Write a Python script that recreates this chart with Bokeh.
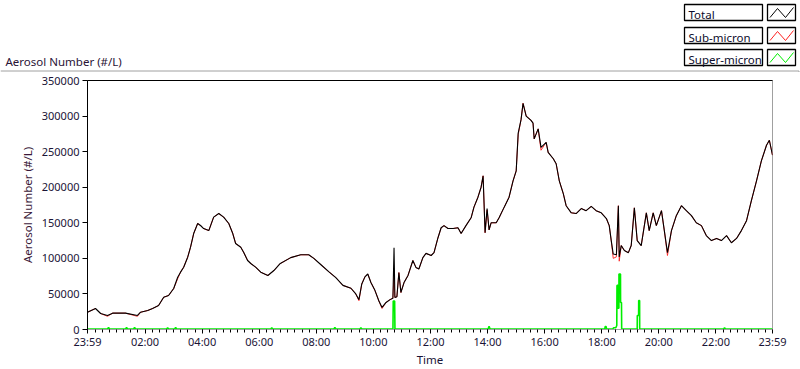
from bokeh.plotting import figure
from bokeh.layouts import column
from bokeh.models import Range1d, FixedTicker, LinearAxis, ColumnDataSource
from bokeh.core.properties import value
from bokeh.embed import file_html
from bokeh.resources import INLINE

# ---------------- data (hours after 23:59) ----------------
hours = [0.00, 0.28, 0.46, 0.70, 0.88, 1.33, 1.75, 1.86, 2.11, 2.28,
         2.49, 2.67, 2.84, 3.02, 3.16, 3.26, 3.37, 3.51, 3.61, 3.72,
         3.86, 3.96, 4.07, 4.25, 4.42, 4.60, 4.77, 4.95, 5.09, 5.19,
         5.37, 5.47, 5.61, 5.72, 5.89, 6.07, 6.32, 6.53, 6.74, 7.12,
         7.47, 7.75, 7.93, 8.18, 8.46, 8.70, 8.95, 9.23, 9.40, 9.51,
         9.61, 9.72, 9.82, 9.93, 10.07, 10.21, 10.32, 10.46, 10.60, 10.70,
         10.74, 10.77, 10.84, 10.91, 10.98, 11.09, 11.23, 11.40, 11.51, 11.61,
         11.75, 11.86, 12.04, 12.14, 12.28, 12.39, 12.49, 12.63, 12.81, 12.98,
         13.09, 13.26, 13.44, 13.54, 13.68, 13.79, 13.86, 13.93, 14.00, 14.07,
         14.14, 14.32, 14.42, 14.60, 14.77, 14.91, 15.02, 15.09, 15.19, 15.26,
         15.37, 15.54, 15.61, 15.65, 15.79, 15.89, 16.07, 16.14, 16.32, 16.42,
         16.53, 16.67, 16.77, 16.95, 17.12, 17.30, 17.47, 17.65, 17.82, 18.00,
         18.18, 18.28, 18.35, 18.42, 18.53, 18.60, 18.63, 18.70, 18.81, 18.95,
         19.05, 19.16, 19.26, 19.40, 19.58, 19.68, 19.82, 19.93, 20.11, 20.21,
         20.32, 20.46, 20.63, 20.81, 20.98, 21.16, 21.33, 21.51, 21.68, 21.86,
         22.04, 22.21, 22.39, 22.56, 22.74, 22.91, 23.09, 23.26, 23.44, 23.61,
         23.79, 23.89, 24.00]

total = [24300, 29500, 22500, 19700, 23000, 23000, 19700, 24300, 26700, 29500,
         33700, 45400, 47800, 57600, 73500, 80600, 87600, 101600, 115700, 134900,
         149000, 146200, 141900, 139000, 157900, 163000, 157900, 149000, 134900, 120900,
         115700, 108600, 97000, 92800, 87600, 80600, 75900, 82900, 92300, 101000,
         105000, 105000, 100000, 91000, 81000, 73000, 62000, 58000, 50000, 42000,
         64000, 74000, 78000, 66000, 55000, 40000, 31000, 38000, 42000, 44000,
         115000, 45000, 46000, 80000, 52000, 66000, 76000, 97000, 87000, 85000,
         101000, 107000, 104000, 108000, 129000, 143000, 146000, 142000, 142000, 143000,
         135000, 146000, 157000, 172000, 186000, 200000, 216000, 136000, 170000, 140000,
         150000, 150000, 157000, 172000, 186000, 209000, 223000, 276000, 295000, 318000,
         300000, 294000, 290000, 268000, 282000, 256000, 263000, 249000, 240000, 233000,
         209000, 191000, 174000, 164000, 163000, 170000, 167000, 173000, 167000, 164000,
         156000, 146000, 125000, 106000, 105000, 174000, 102000, 118000, 111000, 108000,
         118000, 171000, 125000, 118000, 164000, 139000, 164000, 146000, 167000, 139000,
         108000, 139000, 160000, 174000, 167000, 160000, 150000, 146000, 132000, 125000,
         128000, 125000, 132000, 122000, 128000, 139000, 153000, 181000, 209000, 237000,
         259000, 266000, 245000]

sub_micron = [24300, 29500, 22500, 18500, 23000, 23000, 18500, 24300, 26700, 29500,
              33700, 45400, 47800, 57600, 71500, 80600, 87600, 101600, 115700, 134900,
              149000, 146200, 141900, 139000, 157900, 163000, 157900, 149000, 134900, 120900,
              115700, 108600, 97000, 92800, 87600, 80600, 75900, 82900, 92300, 101000,
              105000, 105000, 100000, 91000, 81000, 73000, 62000, 58000, 50000, 40500,
              64000, 74000, 78000, 66000, 55000, 40000, 29500, 38000, 42000, 44000,
              76000, 45000, 46000, 80000, 52000, 66000, 76000, 97000, 87000, 85000,
              101000, 107000, 104000, 108000, 129000, 143000, 146000, 142000, 142000, 143000,
              135000, 146000, 157000, 172000, 186000, 200000, 216000, 136000, 168000, 140000,
              150000, 150000, 157000, 172000, 186000, 209000, 223000, 274000, 295000, 318000,
              300000, 294000, 290000, 268000, 282000, 252000, 263000, 249000, 240000, 233000,
              209000, 191000, 174000, 164000, 163000, 170000, 167000, 173000, 167000, 164000,
              156000, 146000, 125000, 100000, 102000, 174000, 96000, 118000, 111000, 108000,
              118000, 171000, 125000, 118000, 164000, 139000, 164000, 146000, 167000, 139000,
              104000, 139000, 160000, 174000, 167000, 160000, 150000, 146000, 132000, 125000,
              128000, 125000, 132000, 122000, 128000, 139000, 153000, 181000, 209000, 237000,
              259000, 266000, 245000]

super_hours = [0.000, 0.702, 0.737, 0.772, 1.333, 1.368, 1.403, 1.614, 1.649, 1.684,
               2.772, 2.807, 2.842, 3.053, 3.088, 3.123, 6.421, 6.456, 6.491, 8.632,
               8.667, 8.702, 9.544, 9.579, 9.614, 10.702, 10.712, 10.761, 10.772, 14.035,
               14.070, 14.105, 18.123, 18.140, 18.168, 18.186, 18.410, 18.430, 18.510, 18.544,
               18.551, 18.586, 18.589, 18.618, 18.621, 18.674, 18.677, 18.709, 18.716, 19.260,
               19.263, 19.309, 19.312, 19.344, 19.347, 22.290, 22.320, 22.350, 24.000]

super_micron = [800, 800, 3000, 800, 800, 2800, 800, 800, 2800, 800,
                800, 2500, 800, 800, 2800, 800, 800, 2500, 800, 800,
                3000, 800, 800, 2500, 800, 800, 40000, 40000, 800, 800,
                4500, 800, 800, 4200, 4200, 800, 800, 2500, 2500, 5600,
                62000, 62000, 30000, 30000, 78000, 78000, 38000, 38000, 800, 800,
                19700, 19700, 40800, 40800, 800, 800, 2500, 800, 800]

x_tick_labels = ["23:59", "02:00", "04:00", "06:00", "08:00", "10:00", "12:00",
                 "14:00", "16:00", "18:00", "20:00", "22:00", "23:59"]
y_ticks = [0, 50000, 100000, 150000, 200000, 250000, 300000, 350000]
series_names = ["Total", "Sub-micron", "Super-micron"]
series_colors = ["#000000", "#ff2020", "#00ee00"]
y_title = "Aerosol Number (#/L)"
x_title = "Time"

# ---------------- helpers ----------------
START = 23 * 60 + 59


def minutes_from_label(label, last):
    hh, mm = map(int, label.split(":"))
    d = (hh * 60 + mm - START) % 1440
    return 1440 if last else d


x_ticks = [minutes_from_label(l, i == len(x_tick_labels) - 1)
           for i, l in enumerate(x_tick_labels)]
minor_ticks = [1 + 15 * k for k in range(96)]

FONT = "Noto Sans"
TXT = "#1a1436"
W = 800
TOP_H = 72

# ---------------- header strip (title + legend), pixel coordinates ----------------
head = figure(width=W, height=TOP_H, output_backend="svg", toolbar_location=None,
              x_range=Range1d(0, W), y_range=Range1d(TOP_H, 0),
              min_border=0, min_border_left=0, min_border_right=0,
              min_border_top=0, min_border_bottom=0)
head.frame_align = False
head.axis.visible = False
head.grid.visible = False
head.outline_line_color = None
head.background_fill_color = "white"
head.border_fill_color = "white"

# outer panel top line
head.segment(x0=[0], y0=[70.5], x1=[798.5], y1=[70.5], line_color="#a0a0a0", line_width=1)
head.segment(x0=[798.5], y0=[70.5], x1=[798.5], y1=[TOP_H], line_color="#a0a0a0", line_width=1)

head.text(x=[5], y=[60.5], text=[y_title], text_font=value(FONT), text_font_size="11.5px",
          text_color="#2a1436", text_baseline="alphabetic")

row_tops = [4, 27, 49]
box_h = 16
head.quad(left=[684] * 3, right=[762] * 3, top=row_tops, bottom=[t + box_h for t in row_tops],
          fill_color="white", line_color="black", line_width=1.3)
head.quad(left=[767] * 3, right=[795] * 3, top=row_tops, bottom=[t + box_h for t in row_tops],
          fill_color="white", line_color="black", line_width=1.3)
head.text(x=[688] * 3, y=[t + 9.5 for t in row_tops], text=series_names,
          text_font=value(FONT), text_font_size="11.5px", text_color="#0c0c2c",
          text_baseline="alphabetic")
zig_x = [769.5, 777, 785, 793]
head.multi_line(xs=[zig_x] * 3,
                ys=[[t + 13, t + 4, t + 13, t + 3] for t in row_tops],
                line_color=series_colors, line_width=1)

# ---------------- main chart ----------------
MAIN_H = 369 - TOP_H
p = figure(width=W, height=MAIN_H, output_backend="svg", toolbar_location=None,
           x_range=Range1d(0, 1440), y_range=Range1d(0, 350000),
           min_border_left=87, min_border_right=W - 772, min_border_top=80 - TOP_H,
           min_border_bottom=369 - 329)
p.frame_align = False
p.outline_line_color = "#a0a0a0"
p.grid.visible = False
p.background_fill_color = "white"
p.border_fill_color = "white"

src = ColumnDataSource(dict(t=[h * 60 for h in hours], total=total, sub=sub_micron))
src2 = ColumnDataSource(dict(t=[h * 60 for h in super_hours], sup=super_micron))

p.line("t", "sub", source=src, color=series_colors[1], line_width=0.9)
p.line("t", "total", source=src, color=series_colors[0], line_width=1.1)
p.line("t", "sup", source=src2, color=series_colors[2], line_width=1.6)

xa = p.xaxis[0]
xa.ticker = FixedTicker(ticks=x_ticks, minor_ticks=minor_ticks)
xa.major_label_overrides = {t: l for t, l in zip(x_ticks, x_tick_labels)}
xa.axis_line_color = "#a0a0a0"
xa.major_tick_line_color = "black"
xa.minor_tick_line_color = "black"
xa.major_tick_in = 0
xa.major_tick_out = 4
xa.minor_tick_in = 0
xa.minor_tick_out = 3
xa.major_label_standoff = 0
xa.major_label_text_font = FONT
xa.major_label_text_font_size = "11px"
xa.major_label_text_color = TXT
xa.axis_label = x_title
xa.axis_label_text_font = FONT
xa.axis_label_text_font_size = "11.5px"
xa.axis_label_text_font_style = "normal"
xa.axis_label_text_color = "#1a1436"
xa.axis_label_standoff = 0

ya = p.yaxis[0]
ya.ticker = FixedTicker(ticks=y_ticks, minor_ticks=[])
ya.major_label_overrides = {v: str(v) for v in y_ticks}
ya.axis_line_color = "black"
ya.major_tick_line_color = "black"
ya.minor_tick_line_color = None
ya.major_tick_in = 0
ya.major_tick_out = 5
ya.major_label_standoff = 3
ya.major_label_text_font = FONT
ya.major_label_text_font_size = "11px"
ya.major_label_text_color = TXT
ya.axis_label = y_title
ya.axis_label_text_font = FONT
ya.axis_label_text_font_size = "11.5px"
ya.axis_label_text_font_style = "normal"
ya.axis_label_text_color = "#3a1838"
ya.axis_label_standoff = 4

top_axis = LinearAxis(ticker=FixedTicker(ticks=[], minor_ticks=[]),
                      major_tick_in=0, major_tick_out=0, minor_tick_in=0, minor_tick_out=0,
                      major_label_standoff=0, axis_line_color="black")
p.add_layout(top_axis, "above")

layout = column(head, p, spacing=0)
open("out.html", "w").write(file_html(layout, INLINE))
